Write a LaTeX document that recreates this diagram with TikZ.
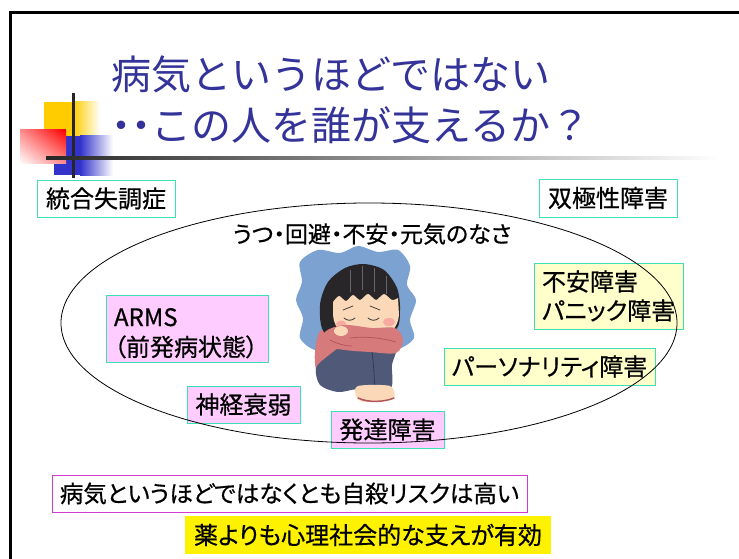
\documentclass[tikz,border=0pt]{standalone}
\usepackage{fontspec}
\usetikzlibrary{shadings}
\newfontfamily\jpfont{Noto Sans CJK JP}[RawFeature=+palt, FakeBold=0.6]
\newfontfamily\jptitle{Noto Sans CJK JP}
\newfontfamily\jptitlenarrow{Noto Sans CJK JP}[RawFeature=+palt]
\definecolor{titleblue}{RGB}{51,51,153}
\definecolor{edgemint}{RGB}{60,224,180}
\definecolor{fillpink}{RGB}{255,204,255}
\definecolor{fillcream}{RGB}{255,255,204}
\definecolor{edgemagenta}{RGB}{210,60,210}
\definecolor{decogold}{RGB}{255,204,0}
\definecolor{decoblue}{RGB}{51,51,204}
\definecolor{decored}{RGB}{255,0,0}
\definecolor{cloudblue}{RGB}{124,162,210}
\definecolor{hairdark}{RGB}{40,38,40}
\definecolor{skin}{RGB}{250,216,184}
\definecolor{sweater}{RGB}{214,122,124}
\definecolor{sweaterdark}{RGB}{176,84,90}
\definecolor{pants}{RGB}{80,90,120}
\definecolor{pantsdark}{RGB}{50,58,84}
\definecolor{blush}{RGB}{246,170,160}
\tikzset{
  titletext/.style={text=titleblue, font=\jptitle\fontsize{40}{44}\selectfont, inner sep=0pt, anchor=west},
  tag/.style={draw=edgemint, line width=1pt, inner sep=0pt, font=\jpfont\fontsize{24}{29}\selectfont},
  pinktag/.style={tag, fill=fillpink},
  creamtag/.style={tag, fill=fillcream},
}
\begin{document}
\begin{tikzpicture}[x=1pt,y=-1pt]
\useasboundingbox (0,0) rectangle (739,559);
\fill[white] (0,0) rectangle (739,559);

% slide frame (open to the right and bottom)
\draw[line width=3pt] (10,559) -- (10,13) -- (739,13);

% corner ornament
\fill[decogold] (44,102) rectangle (73,136);
\shade[left color=decogold, right color=white] (73,102) rectangle (100,136);
\fill[decoblue] (54,136) rectangle (80,175);
\shade[left color=decoblue, right color=white] (80,136) rectangle (113,175);
\shade[upper left=decored!45!white, upper right=decored, lower left=white, lower right=decored!45!white] (20,130) rectangle (66,164);
\draw[line width=3pt, black!85] (73,93) -- (73,178);
\shade[left color=black!85, right color=white] (46,156.5) rectangle (720,159.5);

% title
\node[titletext] (title1) at (111,74) {病気というほどではない};
\node[titletext] (title2) at (111,125) {{\jptitlenarrow ・・}この人を誰が支えるか？};

% outer diagnoses
\node[tag, minimum width=138, minimum height=37] (schizo) at (106,198.5) {統合失調症};
\node[tag, minimum width=138, minimum height=38] (bipolar) at (608,198) {双極性障害};

% symptoms label
\node[font=\jpfont\fontsize{23}{28}\selectfont, inner sep=0pt] (symptoms) at (372,234) {うつ・回避・不安・元気のなさ};

% girl hugging her knees on a blue cloud
\fill[cloudblue] plot[smooth cycle] coordinates {(300,262) (318,250) (340,253) (358,246) (378,252) (398,250) (410,266) (407,285) (416,300) (410,320) (414,338) (398,349) (378,345) (356,352) (335,346) (315,350) (300,338) (303,318) (296,300) (302,282)};
\fill[sweater] plot[smooth cycle] coordinates {(322,330) (315,352) (317,372) (330,380) (345,370) (350,345)};
\fill[pants] plot[smooth cycle] coordinates {(316,368) (320,385) (338,392) (358,389) (390,389) (392,365) (396,346) (372,343) (345,345) (328,356)};
\draw[pantsdark, line width=0.8pt] (372,352) .. controls (374,365) and (374,378) .. (375,389);
\fill[skin] plot[smooth cycle] coordinates {(358,386) (356,396) (363,402) (380,401) (394,398) (390,386)};
\draw[sweaterdark, line width=1.5pt, line cap=round] (358,398) .. controls (368,403) and (385,402) .. (394,398);
\fill[hairdark] plot[smooth cycle] coordinates {(325,333) (320,305) (328,282) (345,268) (364,264) (384,270) (397,288) (400,310) (395,330) (360,335)};
\draw[black!60, line width=0.6pt] (350,270) -- (350,292) (362,266) -- (362,290) (374,268) -- (374,292) (386,276) -- (386,294);
\fill[skin] plot[smooth] coordinates {(333,302) (339,296) (346,301) (353,295) (360,300) (368,294) (376,300) (384,294) (392,300) (398,298)} -- (399,315) .. controls (397,334) and (381,342) .. (363,341) .. controls (346,340) and (334,330) .. (333,315) -- cycle;
\fill[blush] (389,322) ellipse [x radius=6, y radius=4];
\fill[blush] (341,324) ellipse [x radius=5, y radius=3.5];
\draw[black!80, line width=0.7pt, line cap=round] (343,310) -- (353,306) (370,306) -- (380,310);
\draw[black!80, line width=0.8pt, line cap=round] (344,318) .. controls (347,321) and (352,321) .. (355,318) (368,318) .. controls (371,321) and (376,321) .. (379,318);
\draw[sweaterdark, line width=0.8pt] (363,330) .. controls (366,332) and (370,332) .. (372,330);
\fill[sweater] plot[smooth cycle] coordinates {(326,331) (345,325) (372,328) (395,328) (403,340) (396,353) (370,352) (345,350) (322,345)};
\draw[sweaterdark, line width=0.7pt] (350,338) .. controls (365,336) and (382,338) .. (396,342) (330,340) .. controls (338,344) and (345,346) .. (352,346);
\fill[skin] (341,331) ellipse [x radius=7, y radius=5];

% conditions inside the circle
\node[pinktag, minimum width=162, minimum height=67, text width=146, inner xsep=8, align=left, font=\jpfont\fontsize{24}{30}\selectfont, text height=22, text depth=27] (arms) at (187,328.5) {ARMS\\（前発病状態）};
\node[creamtag, minimum width=149, minimum height=66, text width=133, inner xsep=8, align=left] (anxiety) at (608.5,296) {不安障害\\パニック障害};
\node[creamtag, minimum width=211, minimum height=37] (personality) at (549.5,366.5) {パーソナリティ障害};
\node[pinktag, minimum width=113, minimum height=37] (neuro) at (243.5,404.5) {神経衰弱};
\node[pinktag, minimum width=113, minimum height=37] (develop) at (387.5,429.5) {発達障害};

% the borderline region
\draw[line width=0.8pt] (369,323) ellipse [x radius=308, y radius=120];

% conclusions
\node[tag, draw=edgemagenta, minimum width=475, minimum height=37, font=\jpfont\fontsize{23.5}{28}\selectfont] (risk) at (289.5,493.5) {病気というほどではなくとも自殺リスクは高い};
\node[tag, draw=none, fill=yellow, minimum width=366, minimum height=38] (support) at (368,535) {薬よりも心理社会的な支えが有効};
\end{tikzpicture}
\end{document}
